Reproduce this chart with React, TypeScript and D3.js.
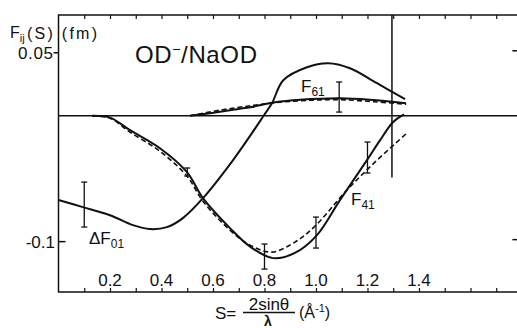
import { useEffect, useRef } from "react";
import * as d3 from "d3";

// F41 (solid = fit, dashed = model)
const f41S = [0.13, 0.2, 0.278, 0.394, 0.499, 0.561, 0.666, 0.744, 0.833, 0.918, 1.004, 1.093, 1.198, 1.249, 1.299, 1.342];
const f41F = [0, -0.0015, -0.0115, -0.0258, -0.0448, -0.0655, -0.0893, -0.104, -0.1131, -0.109, -0.0948, -0.067, -0.0353, -0.0194, -0.0052, 0.001];
const f41DashS = [0.13, 0.2, 0.278, 0.394, 0.499, 0.561, 0.666, 0.744, 0.829, 0.918, 0.996, 1.12, 1.229, 1.357];
const f41DashF = [0, -0.002, -0.0131, -0.0282, -0.048, -0.0679, -0.0909, -0.1028, -0.1083, -0.1004, -0.0877, -0.0591, -0.0369, -0.0131];

// ΔF01
const df01S = [0, 0.095, 0.2, 0.289, 0.355, 0.421, 0.483, 0.561, 0.678, 0.744, 0.798, 0.829, 0.873, 0.965, 1.047, 1.132, 1.237, 1.346];
const df01F = [-0.067, -0.0726, -0.079, -0.0869, -0.09, -0.0885, -0.0813, -0.0655, -0.0352, -0.016, 0.0004, 0.0099, 0.0282, 0.0385, 0.0417, 0.0377, 0.0258, 0.0131];

// F61
const f61S = [0.511, 0.588, 0.666, 0.744, 0.841, 0.938, 1.093, 1.21, 1.35];
const f61F = [0, 0.002, 0.0044, 0.0067, 0.0107, 0.0127, 0.0139, 0.0127, 0.0099];
const f61DashS = [0.511, 0.627, 0.744, 0.86, 0.977, 1.093, 1.229, 1.35];
const f61DashF = [0, 0.0044, 0.0079, 0.0107, 0.0123, 0.0127, 0.0111, 0.0091];

// error bars
const errS = [0.1, 0.5, 0.8, 1.0, 1.09, 1.2];
const errHi = [-0.0527, -0.0415, -0.1019, -0.0805, 0.0268, -0.0209];
const errLo = [-0.0884, -0.0479, -0.1218, -0.1051, 0.0029, -0.0455];

const xTickLabels = [0.2, 0.4, 0.6, 0.8, 1.0, 1.2, 1.4];
const xMinorTicks = d3.range(1, 18).map((i) => i / 10);
const yTicks = [0.05, -0.1];

type Pt = [number, number];
const zip = (a: number[], b: number[]): Pt[] => a.map((v, i) => [v, b[i]]);

export default function App() {
  const svgRef = useRef<SVGSVGElement>(null);

  useEffect(() => {
    if (!svgRef.current) return;
    const svg = d3.select(svgRef.current);
    svg.selectAll("*").remove();

    const left = 58.5;
    const right = 519.4;
    const top = 15;
    const bottom = 292;
    const font = "Liberation Sans, Arial, sans-serif";

    const x = d3.scaleLinear().domain([0, 1.79]).range([left, right]);
    const y = d3.scaleLinear().domain([-0.14, 0.08]).range([bottom, top]);

    const line = d3
      .line<Pt>()
      .x((d) => x(d[0]))
      .y((d) => y(d[1]))
      .curve(d3.curveCatmullRom.alpha(0.5));

    // Frame
    svg
      .append("rect")
      .attr("x", left)
      .attr("y", top)
      .attr("width", right - left)
      .attr("height", bottom - top)
      .attr("fill", "none")
      .attr("stroke", "#111")
      .attr("stroke-width", 1.5);

    // Top axis ticks (down)
    svg
      .append("g")
      .attr("transform", `translate(0,${top})`)
      .call(d3.axisTop(x).tickValues(xMinorTicks).tickSize(-4).tickFormat(() => ""))
      .call((g) => g.select(".domain").remove())
      .selectAll("line")
      .attr("stroke", "#111")
      .attr("stroke-width", 1.2);

    // Bottom axis ticks (up)
    svg
      .append("g")
      .attr("transform", `translate(0,${bottom})`)
      .call(d3.axisBottom(x).tickValues(xMinorTicks).tickSize(-4).tickFormat(() => ""))
      .call((g) => g.select(".domain").remove())
      .selectAll("line")
      .attr("stroke", "#111")
      .attr("stroke-width", 1.2);

    // x tick labels inside plot
    svg
      .append("g")
      .selectAll("text")
      .data(xTickLabels)
      .enter()
      .append("text")
      .attr("x", (d) => x(d))
      .attr("y", 286)
      .attr("text-anchor", "middle")
      .style("font-family", font)
      .style("font-size", "17px")
      .style("fill", "#111")
      .text((d) => d.toFixed(1));

    // y ticks: left and right
    yTicks.forEach((v, i) => {
      svg
        .append("line")
        .attr("x1", i === 0 ? left - 5 : left)
        .attr("x2", i === 0 ? left : left + 7)
        .attr("y1", y(v))
        .attr("y2", y(v))
        .attr("stroke", "#111")
        .attr("stroke-width", 1.5);
      svg
        .append("line")
        .attr("x1", right - 7)
        .attr("x2", right)
        .attr("y1", y(v) - 2)
        .attr("y2", y(v) - 2)
        .attr("stroke", "#111")
        .attr("stroke-width", 1.5);
    });

    svg
      .append("text")
      .attr("x", 53)
      .attr("y", y(0.05) + 6)
      .attr("text-anchor", "end")
      .attr("textLength", 35)
      .style("font-family", font)
      .style("font-size", "17px")
      .style("fill", "#111")
      .text("0.05");

    svg
      .append("text")
      .attr("x", 55)
      .attr("y", y(-0.1) + 6)
      .attr("text-anchor", "end")
      .style("font-family", font)
      .style("font-size", "17px")
      .style("fill", "#111")
      .text("-0.1");

    // Zero line
    svg
      .append("line")
      .attr("x1", left)
      .attr("x2", right)
      .attr("y1", y(0))
      .attr("y2", y(0))
      .attr("stroke", "#111")
      .attr("stroke-width", 1.5);

    // Vertical marker line
    svg
      .append("line")
      .attr("x1", x(1.295))
      .attr("x2", x(1.295))
      .attr("y1", y(0.08))
      .attr("y2", y(-0.049))
      .attr("stroke", "#111")
      .attr("stroke-width", 1.5);

    const solid = (pts: Pt[]) =>
      svg
        .append("path")
        .datum(pts)
        .attr("fill", "none")
        .attr("stroke", "#111")
        .attr("stroke-width", 2)
        .attr("d", line);

    const dashed = (pts: Pt[]) =>
      svg
        .append("path")
        .datum(pts)
        .attr("fill", "none")
        .attr("stroke", "#111")
        .attr("stroke-width", 1.6)
        .attr("stroke-dasharray", "5,3")
        .attr("d", line);

    dashed(zip(f41DashS, f41DashF));
    solid(zip(f41S, f41F));
    dashed(zip(f61DashS, f61DashF));
    solid(zip(f61S, f61F));
    solid(zip(df01S, df01F));

    // Error bars
    const eb = svg.append("g").attr("stroke", "#111").attr("stroke-width", 1.3);
    errS.forEach((s, i) => {
      const cx = x(s);
      eb.append("line").attr("x1", cx).attr("x2", cx).attr("y1", y(errHi[i])).attr("y2", y(errLo[i]));
      [errHi[i], errLo[i]].forEach((v) =>
        eb.append("line").attr("x1", cx - 3).attr("x2", cx + 3).attr("y1", y(v)).attr("y2", y(v))
      );
    });

    // Curve labels
    const label = (tx: number, ty: number, main: string, sub: string) => {
      const t = svg
        .append("text")
        .attr("x", tx)
        .attr("y", ty)
        .style("font-family", font)
        .style("font-size", "17px")
        .style("fill", "#111");
      t.append("tspan").text(main);
      t.append("tspan").attr("dy", 4).style("font-size", "12px").text(sub);
    };
    label(301, 92, "F", "61");
    label(351, 205, "F", "41");
    label(89, 244, "ΔF", "01");

    // Title
    const title = svg
      .append("text")
      .attr("x", 135)
      .attr("y", 63)
      .attr("textLength", 122)
      .style("font-family", font)
      .style("font-size", "24px")
      .style("fill", "#111");
    title.append("tspan").text("OD");
    title.append("tspan").attr("dy", -9).style("font-size", "14px").text("−");
    title.append("tspan").attr("dy", 9).text("/NaOD");

    // y label
    const yl = svg
      .append("text")
      .attr("x", 10)
      .attr("y", 38)
      .style("font-family", font)
      .style("font-size", "16px")
      .style("fill", "#111");
    yl.append("tspan").text("F");
    yl.append("tspan").attr("dy", 4).style("font-size", "11px").text("ij");
    svg
      .append("text")
      .attr("x", 27)
      .attr("y", 39)
      .attr("textLength", 70)
      .style("font-family", font)
      .style("font-size", "16px")
      .style("fill", "#111")
      .text("(S) (fm)");

    // x label
    const xl = svg.append("g").style("font-family", font).style("fill", "#111");
    xl.append("text").attr("x", 215).attr("y", 319).style("font-size", "17px").text("S=");
    xl.append("text")
      .attr("x", 269)
      .attr("y", 310)
      .attr("text-anchor", "middle")
      .style("font-size", "17px")
      .text("2sinθ");
    xl.append("line")
      .attr("x1", 243)
      .attr("x2", 295)
      .attr("y1", 312.5)
      .attr("y2", 312.5)
      .attr("stroke", "#111")
      .attr("stroke-width", 1.3);
    xl.append("text")
      .attr("x", 268)
      .attr("y", 326)
      .attr("text-anchor", "middle")
      .style("font-size", "14px")
      .style("font-weight", "bold")
      .text("λ");
    const unit = xl.append("text").attr("x", 299).attr("y", 318).style("font-size", "16px");
    unit.append("tspan").text("(Å");
    unit.append("tspan").attr("dy", -6).style("font-size", "11px").text("-1");
    unit.append("tspan").attr("dy", 6).text(")");
  }, []);

  return (
    <svg
      ref={svgRef}
      width={517}
      height={328}
      style={{ position: "absolute", left: 0, top: 0, background: "#fff" }}
    />
  );
}
